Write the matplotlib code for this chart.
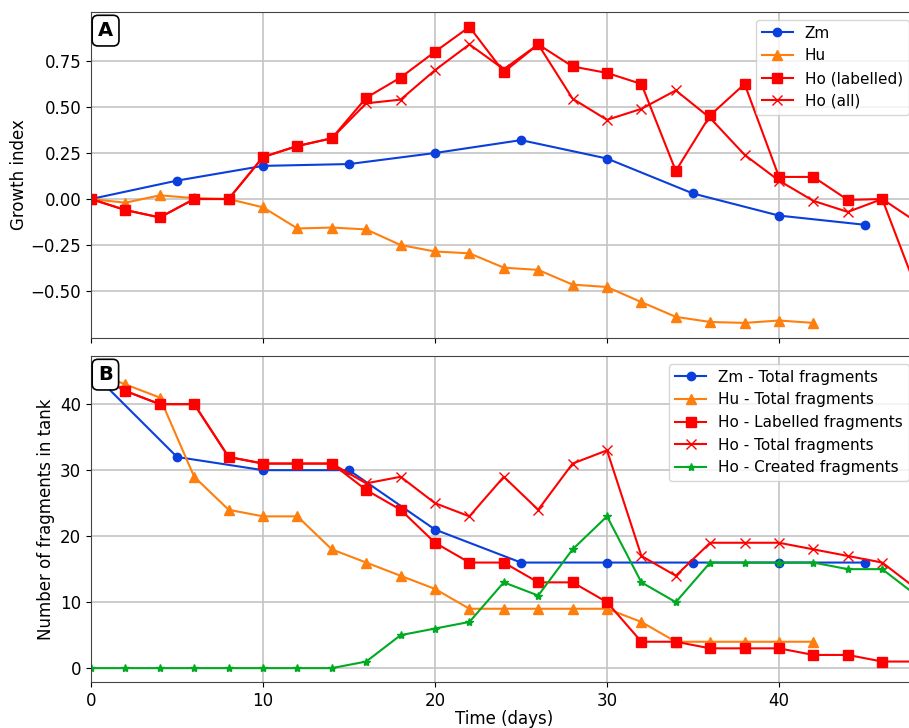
import numpy as np
import matplotlib
matplotlib.use('Agg')
import matplotlib.pyplot as plt

# Panel A - growth index
days_zm = [0, 5, 10, 15, 20, 25, 30, 35, 40, 45]
growth_zm = [0.0, 0.10, 0.18, 0.19, 0.25, 0.32, 0.22, 0.03, -0.09, -0.14]

days_hu = [0, 2, 4, 6, 8, 10, 12, 14, 16, 18, 20, 22, 24, 26, 28, 30, 32, 34, 36, 38, 40, 42]
growth_hu = [0.0, -0.02, 0.02, 0.005, 0.0, -0.045, -0.16, -0.155, -0.165, -0.25, -0.285,
             -0.295, -0.373, -0.385, -0.465, -0.478, -0.56, -0.64, -0.668, -0.673, -0.66, -0.673]

days_ho = [0, 2, 4, 6, 8, 10, 12, 14, 16, 18, 20, 22, 24, 26, 28, 30, 32, 34, 36, 38, 40, 42, 44, 46, 48]
growth_ho_lab = [0.0, -0.06, -0.10, 0.0, 0.0, 0.228, 0.288, 0.33, 0.55, 0.66, 0.80, 0.935,
                 0.69, 0.84, 0.72, 0.685, 0.625, 0.153, 0.455, 0.625, 0.12, 0.12, -0.005, 0.0, -0.49]
growth_ho_all = [0.0, -0.06, -0.10, 0.0, 0.0, 0.228, 0.288, 0.33, 0.52, 0.54, 0.70, 0.84,
                 0.705, 0.84, 0.545, 0.43, 0.49, 0.59, 0.44, 0.24, 0.10, -0.01, -0.07, 0.0, -0.125]

# Panel B - fragment counts
frag_zm = [45, 32, 30, 30, 21, 16, 16, 16, 16, 16]
frag_hu = [45, 43, 41, 29, 24, 23, 23, 18, 16, 14, 12, 9, 9, 9, 9, 9, 7, 4, 4, 4, 4, 4]
frag_ho_lab = [45, 42, 40, 40, 32, 31, 31, 31, 27, 24, 19, 16, 16, 13, 13, 10, 4, 4, 3, 3, 3, 2, 2, 1, 1]
frag_ho_tot = [45, 42, 40, 40, 32, 31, 31, 31, 28, 29, 25, 23, 29, 24, 31, 33, 17, 14, 19, 19, 19, 18, 17, 16, 12]
frag_ho_new = [0, 0, 0, 0, 0, 0, 0, 0, 1, 5, 6, 7, 13, 11, 18, 23, 13, 10, 16, 16, 16, 16, 15, 15, 11]

c_blue = '#0a3fdc'
c_orange = '#ff7f0e'
c_red = '#ff0000'
c_green = '#00aa22'

plt.rcParams['font.size'] = 12
plt.rcParams['axes.edgecolor'] = '#444444'

fig = plt.figure(figsize=(9.09, 7.28), dpi=100)
W, H = 909, 728
# axes run past the right edge, as in the cropped original
ax1 = fig.add_axes([91 / W, (H - 338) / H, 48 * 17.2 / W, 326 / H])
ax2 = fig.add_axes([91 / W, (H - 682) / H, 48 * 17.2 / W, 326 / H], sharex=ax1)

ax1.plot(days_zm, growth_zm, '-o', c=c_blue, ms=6, lw=1.5, label='Zm')
ax1.plot(days_hu, growth_hu, '-^', c=c_orange, ms=6.5, lw=1.5, label='Hu')
ax1.plot(days_ho, growth_ho_lab, '-s', c=c_red, ms=7, lw=1.5, label='Ho (labelled)')
ax1.plot(days_ho, growth_ho_all, '-x', c=c_red, ms=7, lw=1.5, label='Ho (all)')
ax1.set_ylabel('Growth index', labelpad=2)
ax1.set(ylim=(-0.755, 1.016), xlim=(0, 48))
ax1.set_yticks([-0.5, -0.25, 0, 0.25, 0.5, 0.75])
ax1.grid(color='#c4c4c4', lw=1.2)
ax1.legend(loc='upper right', fontsize=11)
ax1.tick_params(labelbottom=False)

ax2.plot(days_zm, frag_zm, '-o', c=c_blue, ms=6, lw=1.5, label='Zm - Total fragments')
ax2.plot(days_hu, frag_hu, '-^', c=c_orange, ms=6.5, lw=1.5, label='Hu - Total fragments')
ax2.plot(days_ho, frag_ho_lab, '-s', c=c_red, ms=7, lw=1.5, label='Ho - Labelled fragments')
ax2.plot(days_ho, frag_ho_tot, '-x', c=c_red, ms=7, lw=1.5, label='Ho - Total fragments')
ax2.plot(days_ho, frag_ho_new, '-*', c=c_green, ms=6, lw=1.5, label='Ho - Created fragments')
ax2.set_ylabel('Number of fragments in tank')
ax2.set_xlabel('Time (days)', labelpad=0)
ax2.set(ylim=(-2.1, 47.3))
ax2.set_xticks([0, 10, 20, 30, 40])
ax2.grid(color='#c4c4c4', lw=1.2)
ax2.legend(loc='upper right', fontsize=11)

for ax, lab in [(ax1, 'A'), (ax2, 'B')]:
    ax.text(0.0085, 0.972, lab, transform=ax.transAxes, ha='left', va='top',
            fontsize=14, fontweight='bold', zorder=10,
            bbox=dict(boxstyle='round,pad=0.3', fc='white', ec='black', lw=1.2))

fig.savefig('out.png', dpi=100)
